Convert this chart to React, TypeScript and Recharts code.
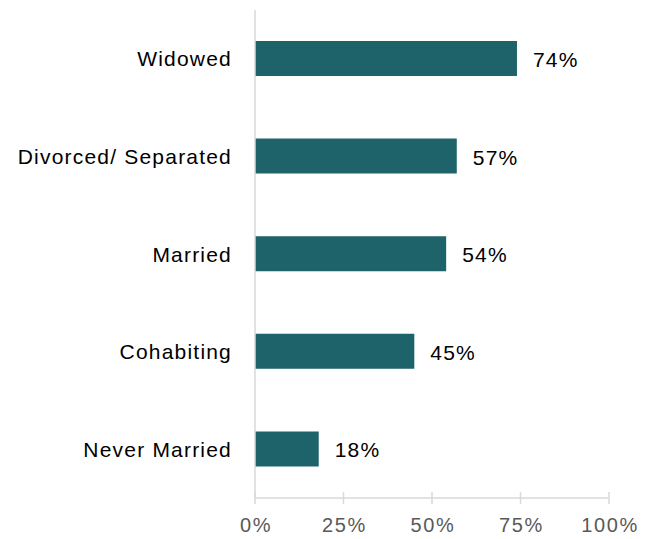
import React from "react"
import { BarChart, Bar, XAxis, YAxis, LabelList } from "recharts"

const categories = ["Widowed", "Divorced/ Separated", "Married", "Cohabiting", "Never Married"]
const shares = [74, 57, 54, 45, 18]
const xTicks = [0, 25, 50, 75, 100]

const data = categories.map((name, i) => ({ name, value: shares[i] }))

const FONT = "'Liberation Sans', Arial, sans-serif"
const BAR_COLOR = "#1e626a"
const AXIS_COLOR = "#d9d9d9"

function CategoryTick({ x, y, payload }: any) {
  return (
    <text
      x={x - 21}
      y={y}
      textAnchor="end"
      dominantBaseline="central"
      fontFamily={FONT}
      fontSize={21}
      letterSpacing={1.2}
      fill="#000"
    >
      {payload.value}
    </text>
  )
}

function PercentTick({ x, y, payload }: any) {
  return (
    <g>
      <line x1={x} x2={x} y1={y - 6} y2={y + 6} stroke={AXIS_COLOR} strokeWidth={1.5} />
      <text
        x={x + 1}
        y={y + 34}
        textAnchor="middle"
        fontFamily={FONT}
        fontSize={20}
        letterSpacing={1.6}
        fill="#595959"
      >
        {payload.value}%
      </text>
    </g>
  )
}

function ValueLabel({ x, y, width, height, value }: any) {
  return (
    <text
      x={x + width + 16}
      y={y + height / 2 + 1}
      dominantBaseline="central"
      fontFamily={FONT}
      fontSize={21}
      letterSpacing={1.2}
      fill="#000"
    >
      {value}%
    </text>
  )
}

export default function App() {
  return (
    <div style={{ position: "absolute", left: 0, top: 0 }}>
      <BarChart
        width={655}
        height={539}
        data={data}
        layout="vertical"
        margin={{ top: 10, right: 46, bottom: 0, left: 0 }}
      >
        <XAxis
          type="number"
          domain={[0, 100]}
          ticks={xTicks}
          interval={0}
          height={41}
          tickSize={0}
          tickMargin={0}
          tickLine={false}
          axisLine={{ stroke: AXIS_COLOR, strokeWidth: 1.5 }}
          tick={<PercentTick />}
        />
        <YAxis
          type="category"
          dataKey="name"
          width={255}
          tickSize={0}
          tickLine={false}
          axisLine={{ stroke: AXIS_COLOR, strokeWidth: 1.5 }}
          tick={<CategoryTick />}
        />
        <Bar dataKey="value" fill={BAR_COLOR} barSize={35} isAnimationActive={false}>
          <LabelList dataKey="value" content={<ValueLabel />} />
        </Bar>
      </BarChart>
    </div>
  )
}
